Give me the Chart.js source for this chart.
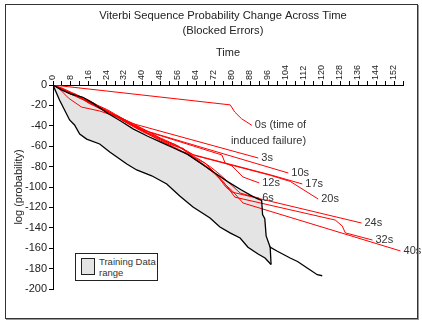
<!DOCTYPE html>
<html>
<head>
<meta charset="utf-8">
<script src="https://cdn.jsdelivr.net/npm/chart.js@4.4.1/dist/chart.umd.min.js"></script>
<style>
  body { margin: 0; background: #fff; font-family: "Liberation Sans", Arial, sans-serif; }
  #wrap { position: relative; width: 422px; height: 325px; }
  #frame { position: absolute; left: 5px; top: 4px; width: 411px; height: 313px; border: 1px solid #333; box-shadow: 1px 1px 0 #999; pointer-events: none; }
  #key { position: absolute; left: 75px; top: 253px; width: 81px; height: 26px; border: 1px solid #222; background: #fff; font-size: 9.5px; color: #333; }
  #key .sw { position: absolute; left: 5px; top: 4px; width: 12px; height: 15px; border: 1.5px solid #222; background: #e4e4e4; }
  #key .tx { position: absolute; left: 23px; top: 2px; line-height: 11px; white-space: nowrap; }
</style>
</head>
<body>
<div id="wrap">
  <canvas id="myChart" width="422" height="325"></canvas>
  <div id="frame"></div>
  <div id="key"><div class="sw"></div><div class="tx">Training Data<br>range</div></div>
</div>
<script>
// axes
const timeMax = 156;
const timeStep = 4;
const labelEvery = 8;
const logMin = -200;
const logMax = 0;
const logStep = 20;
const titleLines = ['Viterbi Sequence Probability Change Across Time', '(Blocked Errors)'];

// training data range (black), [time, log prob]
const upperRange = [[0,0],[4,-5],[8,-9],[13.3,-12],[18,-18],[24.5,-28],[30,-35],[35.7,-43],[42,-50],[48,-56],[54,-62],[60,-68],[66,-77],[72,-86],[78,-95],[84,-103],[88,-108],[91,-111.5],[93,-113],[93.4,-127],[94.4,-131],[95,-148],[96.8,-159]];
const lowerRange = [[0,0],[2.9,-14.7],[7.4,-34.3],[9.6,-39.2],[11.9,-48],[15,-53],[20.8,-57.8],[25.3,-65.7],[32.9,-77.5],[37.3,-83.3],[44,-89],[50.7,-97],[56.5,-108.8],[62.4,-119.6],[70,-130.4],[74.4,-139.2],[78.9,-145],[83.4,-150],[86.9,-159],[91.4,-165.7],[94.5,-169.6],[97.2,-176]];
const rangeTail = [[97.2,-176],[96.8,-159],[100,-163],[105.7,-169.6],[109,-173],[113.3,-179.4],[117.8,-186],[120,-187]];

// failure runs (red)
const failNames = [['0s (time of', 'induced failure)'], ['3s'], ['10s'], ['17s'], ['20s'], ['12s'], ['6s'], ['24s'], ['32s'], ['40s']];
const line0s = [[0,0],[79,-19.5],[81,-26.5],[84,-33],[88.6,-39.5]];
const line3s = [[0,0],[4,-3],[8,-7],[12,-11],[16,-15],[20,-20],[24,-24],[28,-29],[32,-34],[35,-37.5],[91.5,-71.6]];
const line10s = [[0,0],[4,-4],[8,-8.5],[12,-12],[16,-17],[20,-22],[24,-25],[28,-30],[32,-35],[36,-39],[40,-43],[43,-46],[104.9,-86.3]];
const line17s = [[0,0],[4,-3.5],[8,-8],[12,-13],[16,-16],[20,-21],[24,-26],[28,-31],[32,-34],[36,-38],[40,-43],[44,-48],[48,-52],[52,-56],[56,-60],[59,-65],[62,-68],[96.8,-88],[111.1,-97]];
const line20s = [[0,0],[4,-4],[8,-9],[12,-12],[16,-18],[20,-22],[24,-26],[28,-30],[32,-36],[36,-40],[40,-44],[44,-47],[48,-53],[52,-57],[56,-61],[60,-65],[63,-69],[96.8,-88.5],[105.7,-94.5],[118.2,-111.8]];
const line12s = [[0,0],[4,-4],[8,-8],[12,-12.5],[16,-16],[20,-21],[24,-26],[28,-30],[32,-34],[36,-40],[40,-44],[44,-47],[75.3,-68.6],[76.7,-76.5],[79.8,-79.4],[84.7,-90.2],[91.9,-96]];
const line6s = [[0,0],[4,-3.5],[6,-7],[10,-9],[14,-15],[18,-19],[22,-23],[26,-28],[30,-32],[34,-37],[38,-42],[42,-47],[46,-51],[50,-55],[54,-58],[58,-63],[62,-69],[66,-74],[70,-80],[74,-87],[78,-95],[80,-99],[83.4,-105.9],[87.9,-108.8],[91.9,-110.8]];
const line24s = [[0,0],[4,-4],[8,-8],[12,-12],[16,-17],[20,-21],[24,-25],[28,-30],[32,-35],[36,-40],[40,-45],[44,-49],[48,-53],[52,-58],[56,-61],[58,-62],[62.4,-70.6],[67.7,-76.5],[73.1,-88.2],[77,-100],[79.8,-105],[137.5,-135.3]];
const line32s = [[0,0],[4,-4.5],[8,-9],[12,-13],[16,-17],[20,-22],[24,-27],[28,-31],[32,-36],[36,-41],[40,-45],[44,-50],[48,-54],[52,-59],[56,-64],[60,-67],[64,-73],[68,-79],[72,-86],[76,-95],[81.1,-110],[125.8,-132.4],[128.9,-138.2],[130.3,-145],[142.4,-152]];
const line40s = [[0,0],[2.9,-3.9],[7,-13],[12.7,-21.6],[20.8,-25.5],[28.4,-31],[32,-36],[36,-41],[40,-46],[44,-50],[48,-55],[52,-59],[56,-63],[60,-68],[64,-74],[68,-80],[72,-87],[76,-96],[80,-104],[84.7,-115.7],[154.9,-162.7]];
const redLines = [line0s, line3s, line10s, line17s, line20s, line12s, line6s, line24s, line32s, line40s];

const FONT = '"Liberation Sans", Arial, sans-serif';
const pts = arr => arr.map(p => ({ x: p[0], y: p[1] }));

// 제목 + 끝점 라벨
const textPlugin = {
  id: 'textPlugin',
  afterDraw(chart) {
    const { ctx } = chart;
    ctx.save();
    ctx.font = '11.2px ' + FONT;
    ctx.fillStyle = '#222';
    ctx.textAlign = 'center';
    ctx.textBaseline = 'middle';
    titleLines.forEach((s, k) => ctx.fillText(s, 223, 16 + k * 15));
    ctx.restore();
  },
  afterDatasetsDraw(chart) {
    const { ctx, scales: { x, y } } = chart;
    ctx.save();
    ctx.font = '11px ' + FONT;
    ctx.fillStyle = '#333';
    ctx.textBaseline = 'middle';
    redLines.forEach((arr, i) => {
      const last = arr[arr.length - 1];
      const px = x.getPixelForValue(last[0]) + 3;
      const py = y.getPixelForValue(last[1]);
      const lines = failNames[i];
      const w = ctx.measureText(lines[0]).width;
      lines.forEach((s, k) => {
        ctx.textAlign = k ? 'right' : 'left';
        ctx.fillText(s, k ? px + w : px, py + k * 16);
      });
    });
    ctx.restore();
  }
};

const blackLine = { borderColor: '#000', borderWidth: 1.3, pointRadius: 0, fill: false };
const datasets = [
  Object.assign({}, blackLine, { label: 'Training Data range', data: pts(upperRange), fill: '+1', backgroundColor: '#e4e4e4' }),
  Object.assign({}, blackLine, { label: 'lower', data: pts(lowerRange) }),
  Object.assign({}, blackLine, { label: 'tail', data: pts(rangeTail) })
];
redLines.forEach((arr, i) => {
  datasets.push({ label: failNames[i][0], data: pts(arr), borderColor: '#ff0000', borderWidth: 1, pointRadius: 0, fill: false });
});

const ctx = document.getElementById('myChart');
const myChart = new Chart(ctx, {
  type: 'line',
  data: { datasets: datasets },
  plugins: [textPlugin],
  options: {
    responsive: false,
    animation: false,
    layout: { padding: { left: 0, top: 39, right: 19, bottom: 36 } },
    plugins: {
      legend: { display: false },
      tooltip: { enabled: false },
      filler: { drawTime: 'beforeDatasetsDraw' }
    },
    scales: {
      x: {
        type: 'linear',
        position: 'top',
        min: 0,
        max: timeMax,
        afterFit: s => { s.height = 46; },
        ticks: {
          stepSize: timeStep,
          autoSkip: false,
          minRotation: 90,
          maxRotation: 90,
          padding: 1,
          labelOffset: 10,
          color: '#222',
          font: { family: FONT, size: 9 },
          callback: v => (v % labelEvery === 0 ? v : '')
        },
        grid: { drawOnChartArea: false, tickLength: 4, color: '#000' },
        border: { color: '#000' },
        title: { display: true, text: 'Time', color: '#222', font: { family: FONT, size: 11 }, padding: { top: 7, bottom: 0 } }
      },
      y: {
        min: logMin,
        max: logMax,
        afterFit: s => { s.width = 53; },
        ticks: { stepSize: logStep, padding: 2, color: '#222', font: { family: FONT, size: 11 } },
        grid: { drawOnChartArea: false, tickLength: 4, color: '#000' },
        border: { color: '#000' },
        title: { display: true, text: 'log (probability)', color: '#222', font: { family: FONT, size: 11 }, padding: { top: 12, bottom: 0 } }
      }
    }
  }
});
</script>
</body>
</html>
